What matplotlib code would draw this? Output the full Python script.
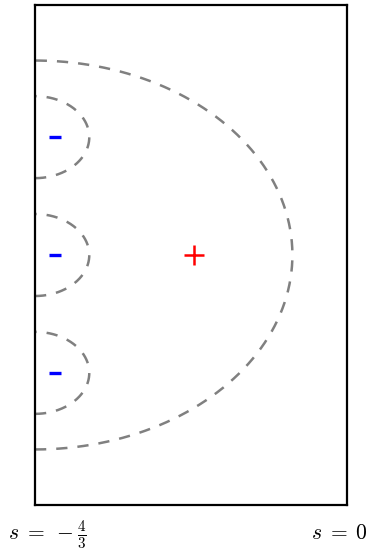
import numpy as np
import matplotlib
matplotlib.use("Agg")
import matplotlib.pyplot as plt

plt.rcParams['mathtext.fontset'] = 'cm'

# domain and charges
s_left = -4 / 3
s_right = 0.0
y_half = np.sqrt(2)

neg_x = [-1.25, -1.25, -1.25]
neg_y = [2 / 3, 0.0, -2 / 3]
pos_x = [-0.655]
pos_y = [0.0]

# dashed half circles centred on the left wall
arc_cy = [2 / 3, 0.0, -2 / 3, 0.0]
arc_r = [0.232, 0.232, 0.232, 1.1]

fig = plt.figure(figsize=(3.7, 5.53), dpi=100)
ax = fig.add_axes([35 / 370, 1 - 505 / 553, 312 / 370, 500 / 553])

t = np.linspace(-np.pi / 2, np.pi / 2, 300)
for cy, r in zip(arc_cy, arc_r):
    ax.plot(s_left + r * np.cos(t), cy + r * np.sin(t), color='gray',
            lw=1.8, linestyle=(0, (4.5, 4.0)))

ax.plot(neg_x, neg_y, linestyle='none', marker='_', ms=8, mew=2.4, color='blue')
ax.plot(pos_x, pos_y, linestyle='none', marker='+', ms=14, mew=1.8, color='red')

ax.set_xlim(s_left, s_right)
ax.set_ylim(-y_half, y_half)
ax.set_xticks([])
ax.set_yticks([])
for sp in ax.spines.values():
    sp.set_linewidth(1.6)

fig.text(8 / 370, 1 - 539 / 553, r'$s\;=\;-\frac{4}{3}$', fontsize=15.5, ha='left', va='baseline')
fig.text(368 / 370, 1 - 539 / 553, r'$s\;=\;0$', fontsize=15.5, ha='right', va='baseline')

fig.savefig('out.png', dpi=100)
